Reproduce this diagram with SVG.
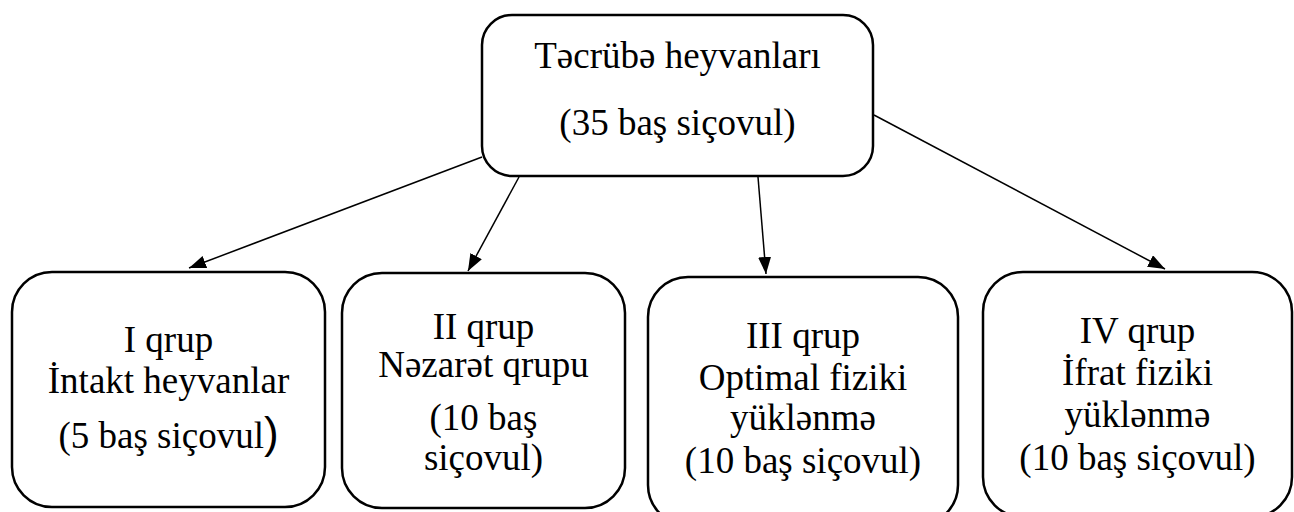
<svg xmlns="http://www.w3.org/2000/svg" width="1294" height="512" viewBox="0 0 1294 512">
<style>
.box{fill:#fff;stroke:#000;stroke-width:2.5}
.t{font-family:"Liberation Serif","Times New Roman",serif;font-size:37px;fill:#000;text-anchor:middle}
.c{stroke:#000;stroke-width:1.5;fill:none;marker-end:url(#ah)}
</style>
<defs>
<marker id="ah" markerUnits="userSpaceOnUse" markerWidth="18" markerHeight="14" refX="17" refY="6.5" orient="auto">
<path d="M0,0 L17,6.5 L0,13 z" fill="#000"/>
</marker>
</defs>
<rect width="1294" height="512" fill="#fff"/>
<g id="connectors">
<line class="c" x1="482" y1="157" x2="189" y2="268"/>
<line class="c" x1="519" y1="177" x2="468" y2="271"/>
<line class="c" x1="758" y1="177" x2="766" y2="274"/>
<line class="c" x1="874" y1="115" x2="1165" y2="269"/>
</g>
<g id="root">
<rect class="box" x="482" y="15" width="391" height="161" rx="30"/>
<text class="t" x="677.5" y="68">Təcrübə heyvanları</text>
<text class="t" x="677.5" y="135">(35 baş siçovul)</text>
</g>
<g id="group1">
<rect class="box" x="12" y="272" width="313" height="235" rx="40"/>
<text class="t" x="168.5" y="352">I qrup</text>
<text class="t" x="168.5" y="393">İntakt heyvanlar</text>
<text class="t" x="168.5" y="448">(5 baş siçovul<tspan font-size="44" font-family="'Liberation Sans',sans-serif">)</tspan></text>
</g>
<g id="group2">
<rect class="box" x="342" y="273" width="283" height="235" rx="40"/>
<text class="t" x="483.5" y="339">II qrup</text>
<text class="t" x="483.5" y="377">Nəzarət qrupu</text>
<text class="t" x="483.5" y="430">(10 baş</text>
<text class="t" x="483.5" y="470">siçovul)</text>
</g>
<g id="group3">
<rect class="box" x="648" y="277" width="310" height="248" rx="40"/>
<text class="t" x="803" y="348">III qrup</text>
<text class="t" x="803" y="390">Optimal fiziki</text>
<text class="t" x="803" y="430">yüklənmə</text>
<text class="t" x="803" y="473">(10 baş siçovul)</text>
</g>
<g id="group4">
<rect class="box" x="983" y="272" width="309" height="245" rx="40"/>
<text class="t" x="1137.5" y="343">IV qrup</text>
<text class="t" x="1137.5" y="385">İfrat fiziki</text>
<text class="t" x="1137.5" y="427">yüklənmə</text>
<text class="t" x="1137.5" y="470">(10 baş siçovul)</text>
</g>
</svg>
